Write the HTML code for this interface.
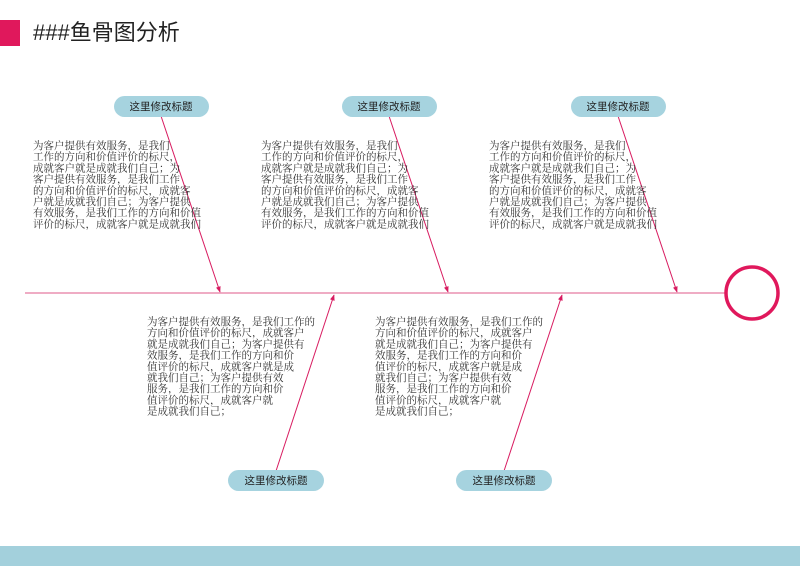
<!DOCTYPE html>
<html><head><meta charset="utf-8"><style>
html,body{margin:0;padding:0;background:#fff;width:800px;height:566px;overflow:hidden}
svg{display:block}
.t{font-family:"Liberation Serif","Noto Serif CJK SC",serif;font-size:10.5px;fill:#333}
.p{font-family:"Liberation Sans","Noto Sans CJK SC",sans-serif;font-size:10.5px;fill:#222;text-anchor:middle}
</style></head><body>
<svg width="800" height="566" viewBox="0 0 800 566" xmlns="http://www.w3.org/2000/svg">
<defs><marker id="a" viewBox="0 0 10 10" refX="9" refY="5" markerWidth="6" markerHeight="6" orient="auto"><path d="M0,1 L10,5 L0,9 z" fill="#d81b60"/></marker></defs>
<rect x="0" y="20" width="20" height="26" fill="#e0185c"/>
<text x="33" y="40" font-family="Liberation Sans,'Noto Sans CJK SC',sans-serif" font-size="22" fill="#222">###鱼骨图分析</text>
<line x1="25" y1="293" x2="725" y2="293" stroke="#e57ba0" stroke-width="1.3"/>
<circle cx="752" cy="293" r="26" fill="none" stroke="#e0185c" stroke-width="3.5"/>
<g stroke="#d81b60" stroke-width="1" marker-end="url(#a)">
<line x1="161" y1="116" x2="220" y2="292"/>
<line x1="389" y1="116" x2="448" y2="292"/>
<line x1="618" y1="116" x2="677" y2="292"/>
<line x1="276" y1="471" x2="334" y2="295"/>
<line x1="504" y1="471" x2="562" y2="295"/>
</g>
<g fill="#a6d3df">
<rect x="114" y="96" width="95" height="21" rx="10.5"/>
<rect x="342" y="96" width="95" height="21" rx="10.5"/>
<rect x="571" y="96" width="95" height="21" rx="10.5"/>
<rect x="228" y="470" width="96" height="21" rx="10.5"/>
<rect x="456" y="470" width="96" height="21" rx="10.5"/>
</g>
<text class="p" x="161" y="110">这里修改标题</text>
<text class="p" x="389" y="110">这里修改标题</text>
<text class="p" x="618" y="110">这里修改标题</text>
<text class="p" x="276" y="484">这里修改标题</text>
<text class="p" x="504" y="484">这里修改标题</text>
<g class="t">
<text x="33" y="149"><tspan x="33">为客户提供有效服务，是我们</tspan><tspan x="33" dy="11.2">工作的方向和价值评价的标尺，</tspan><tspan x="33" dy="11.2">成就客户就是成就我们自己；为</tspan><tspan x="33" dy="11.2">客户提供有效服务，是我们工作</tspan><tspan x="33" dy="11.2">的方向和价值评价的标尺，成就客</tspan><tspan x="33" dy="11.2">户就是成就我们自己；为客户提供</tspan><tspan x="33" dy="11.2">有效服务，是我们工作的方向和价值</tspan><tspan x="33" dy="11.2">评价的标尺，成就客户就是成就我们</tspan></text>
<text x="261" y="149"><tspan x="261">为客户提供有效服务，是我们</tspan><tspan x="261" dy="11.2">工作的方向和价值评价的标尺，</tspan><tspan x="261" dy="11.2">成就客户就是成就我们自己；为</tspan><tspan x="261" dy="11.2">客户提供有效服务，是我们工作</tspan><tspan x="261" dy="11.2">的方向和价值评价的标尺，成就客</tspan><tspan x="261" dy="11.2">户就是成就我们自己；为客户提供</tspan><tspan x="261" dy="11.2">有效服务，是我们工作的方向和价值</tspan><tspan x="261" dy="11.2">评价的标尺，成就客户就是成就我们</tspan></text>
<text x="489" y="149"><tspan x="489">为客户提供有效服务，是我们</tspan><tspan x="489" dy="11.2">工作的方向和价值评价的标尺，</tspan><tspan x="489" dy="11.2">成就客户就是成就我们自己；为</tspan><tspan x="489" dy="11.2">客户提供有效服务，是我们工作</tspan><tspan x="489" dy="11.2">的方向和价值评价的标尺，成就客</tspan><tspan x="489" dy="11.2">户就是成就我们自己；为客户提供</tspan><tspan x="489" dy="11.2">有效服务，是我们工作的方向和价值</tspan><tspan x="489" dy="11.2">评价的标尺，成就客户就是成就我们</tspan></text>
<text x="147" y="325"><tspan x="147">为客户提供有效服务，是我们工作的</tspan><tspan x="147" dy="11.2">方向和价值评价的标尺，成就客户</tspan><tspan x="147" dy="11.2">就是成就我们自己；为客户提供有</tspan><tspan x="147" dy="11.2">效服务，是我们工作的方向和价</tspan><tspan x="147" dy="11.2">值评价的标尺，成就客户就是成</tspan><tspan x="147" dy="11.2">就我们自己；为客户提供有效</tspan><tspan x="147" dy="11.2">服务，是我们工作的方向和价</tspan><tspan x="147" dy="11.2">值评价的标尺，成就客户就</tspan><tspan x="147" dy="11.2">是成就我们自己；</tspan></text>
<text x="375" y="325"><tspan x="375">为客户提供有效服务，是我们工作的</tspan><tspan x="375" dy="11.2">方向和价值评价的标尺，成就客户</tspan><tspan x="375" dy="11.2">就是成就我们自己；为客户提供有</tspan><tspan x="375" dy="11.2">效服务，是我们工作的方向和价</tspan><tspan x="375" dy="11.2">值评价的标尺，成就客户就是成</tspan><tspan x="375" dy="11.2">就我们自己；为客户提供有效</tspan><tspan x="375" dy="11.2">服务，是我们工作的方向和价</tspan><tspan x="375" dy="11.2">值评价的标尺，成就客户就</tspan><tspan x="375" dy="11.2">是成就我们自己；</tspan></text>
</g>
<rect x="0" y="546" width="800" height="20" fill="#a3d0dc"/>
</svg>
</body></html>
